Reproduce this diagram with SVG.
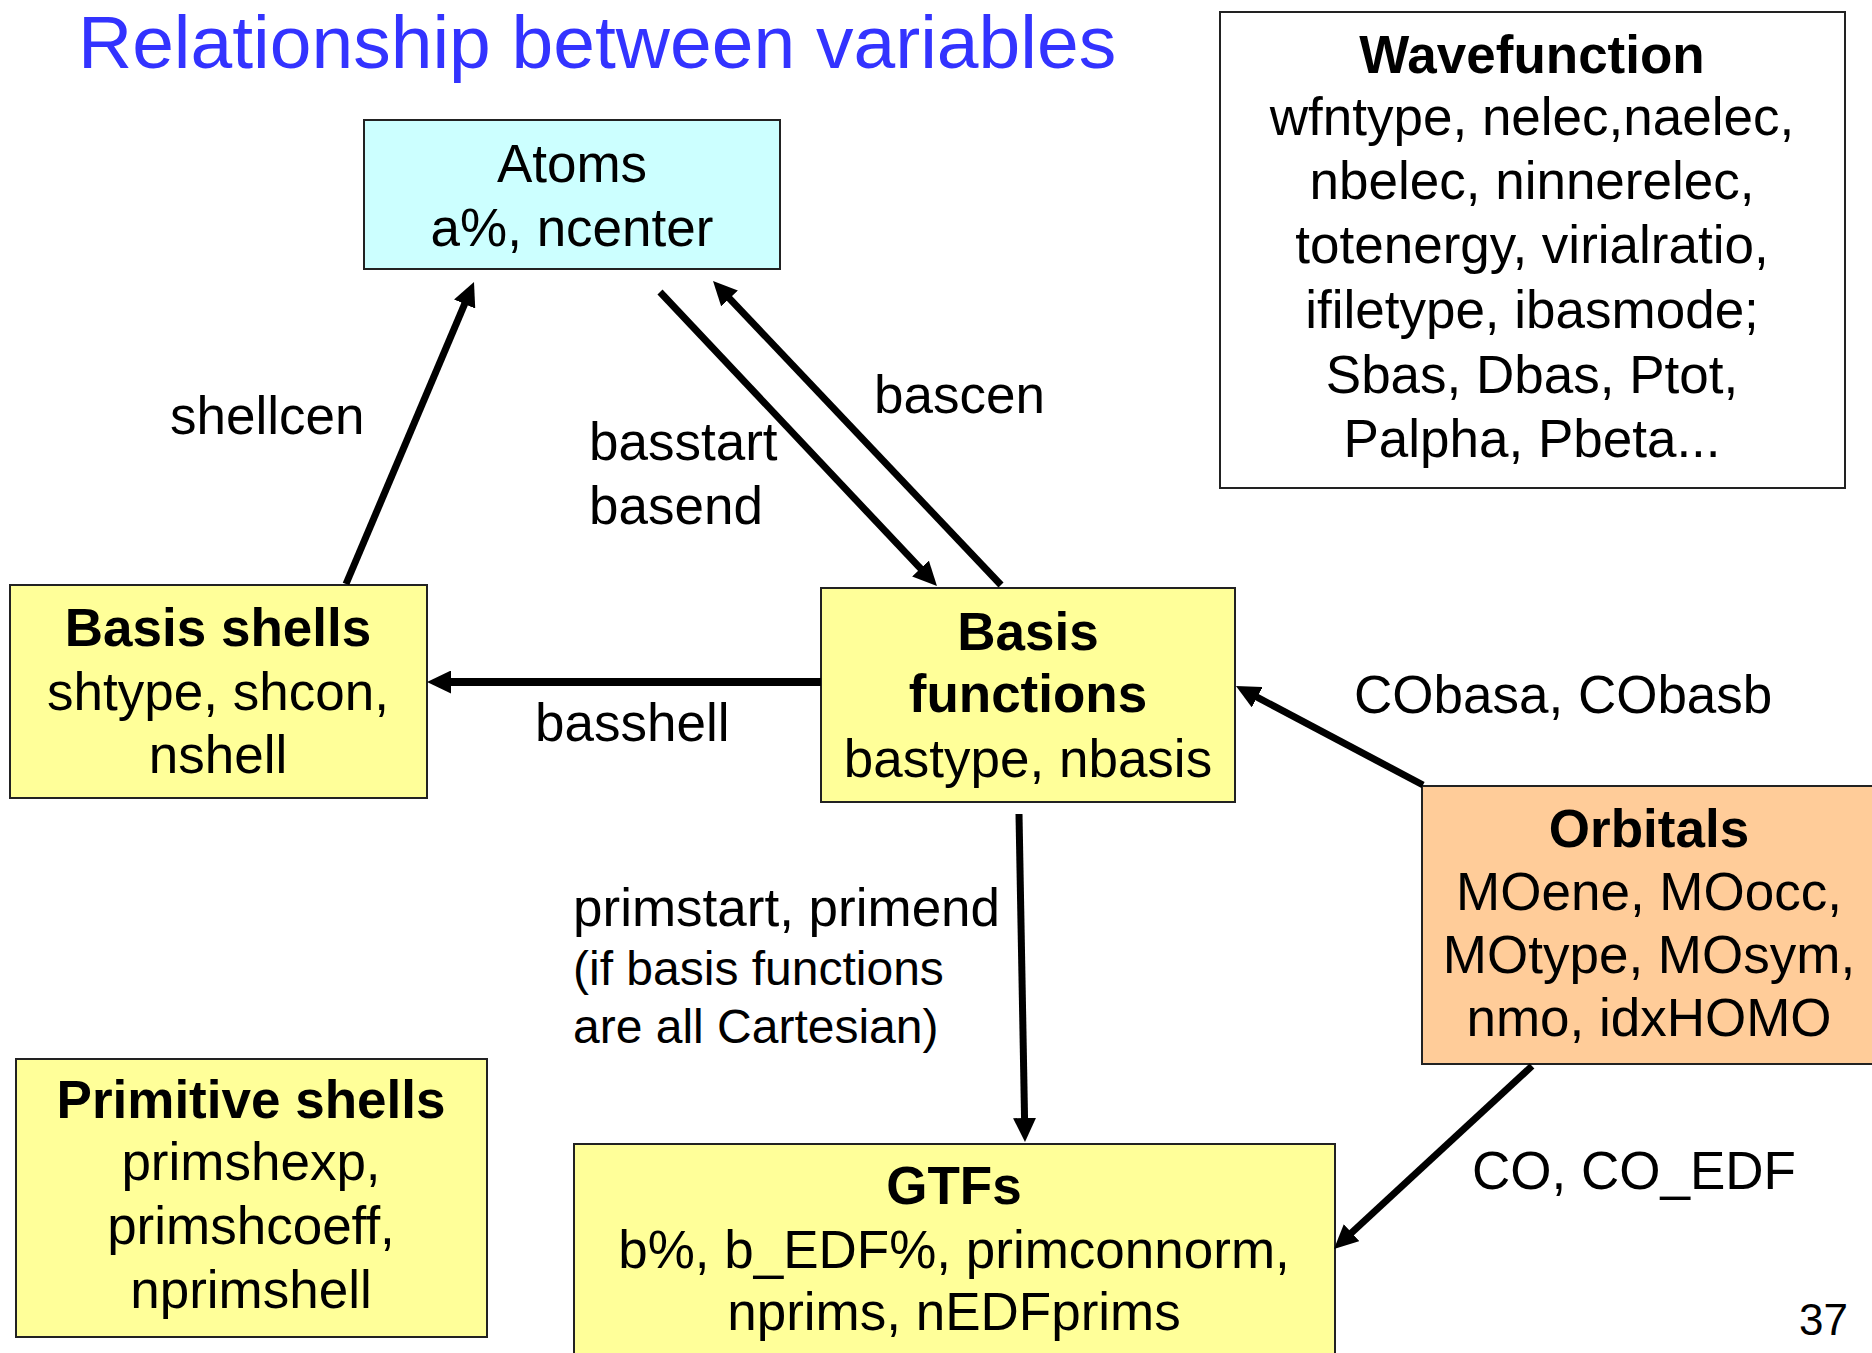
<svg xmlns="http://www.w3.org/2000/svg" width="1872" height="1353" viewBox="0 0 1872 1353">
<defs>
<style>
text{font-family:"Liberation Sans",Arial,sans-serif;font-size:53px;fill:#000;text-anchor:middle}
.b{font-weight:bold}
.l{text-anchor:start}
.s{font-size:48px}
.box{stroke:#222;stroke-width:2}
.y{fill:#FFFF99}
.c{fill:#CCFFFF}
.o{fill:#FFCC99}
.w{fill:#fff}
.e{stroke:#000;stroke-width:7;fill:none;marker-end:url(#ah)}
</style>
<marker id="ah" markerUnits="userSpaceOnUse" markerWidth="24" markerHeight="23" refX="14" refY="11.5" orient="auto">
<path d="M0,0 L24,11.5 L0,23 z" fill="#000"/>
</marker>
</defs>
<rect width="1872" height="1353" fill="#fff"/>
<text x="78" y="68" class="l" style="font-size:75px;fill:#3333FF">Relationship between variables</text>

<g id="atoms">
<rect class="box c" x="364" y="120" width="416" height="149"/>
<text x="572" y="182">Atoms</text>
<text x="572" y="246">a%, ncenter</text>
</g>

<g id="wavefunction">
<rect class="box w" x="1220" y="12" width="625" height="476"/>
<text x="1532" y="73" class="b">Wavefunction</text>
<text x="1532" y="135">wfntype, nelec,naelec,</text>
<text x="1532" y="199">nbelec, ninnerelec,</text>
<text x="1532" y="263">totenergy, virialratio,</text>
<text x="1532" y="328">ifiletype, ibasmode;</text>
<text x="1532" y="393">Sbas, Dbas, Ptot,</text>
<text x="1532" y="457">Palpha, Pbeta...</text>
</g>

<g id="basis-shells">
<rect class="box y" x="10" y="585" width="417" height="213"/>
<text x="218" y="646" class="b">Basis shells</text>
<text x="218" y="710">shtype, shcon,</text>
<text x="218" y="773">nshell</text>
</g>

<g id="basis-functions">
<rect class="box y" x="821" y="588" width="414" height="214"/>
<text x="1028" y="650" class="b">Basis</text>
<text x="1028" y="712" class="b">functions</text>
<text x="1028" y="777">bastype, nbasis</text>
</g>

<g id="orbitals">
<rect class="box o" x="1422" y="786" width="456" height="278"/>
<text x="1649" y="847" class="b">Orbitals</text>
<text x="1649" y="910">MOene, MOocc,</text>
<text x="1649" y="973">MOtype, MOsym,</text>
<text x="1649" y="1036">nmo, idxHOMO</text>
</g>

<g id="primitive-shells">
<rect class="box y" x="16" y="1059" width="471" height="278"/>
<text x="251" y="1118" class="b">Primitive shells</text>
<text x="251" y="1180">primshexp,</text>
<text x="251" y="1244">primshcoeff,</text>
<text x="251" y="1308">nprimshell</text>
</g>

<g id="gtfs">
<rect class="box y" x="574" y="1144" width="761" height="220"/>
<text x="954" y="1204" class="b">GTFs</text>
<text x="954" y="1268">b%, b_EDF%, primconnorm,</text>
<text x="954" y="1330">nprims, nEDFprims</text>
</g>

<g id="connectors">
<line class="e" x1="346" y1="584" x2="470.1" y2="291.2"/>
<line class="e" x1="660" y1="292" x2="930.1" y2="578.7"/>
<line class="e" x1="1001" y1="585" x2="719.9" y2="288.3"/>
<line class="e" x1="821" y1="682" x2="437" y2="682" style="stroke-width:8"/>
<line class="e" x1="1019" y1="814" x2="1024.8" y2="1132"/>
<line class="e" x1="1423" y1="785" x2="1244.8" y2="690.7"/>
<line class="e" x1="1532" y1="1066" x2="1341.3" y2="1242.2"/>
</g>

<g id="labels">
<text x="170" y="434" class="l">shellcen</text>
<text x="589" y="460" class="l">basstart</text>
<text x="589" y="524" class="l">basend</text>
<text x="874" y="413" class="l">bascen</text>
<text x="535" y="741" class="l">basshell</text>
<text x="1354" y="713" class="l">CObasa, CObasb</text>
<text x="573" y="926" class="l">primstart, primend</text>
<text x="573" y="985" class="l s">(if basis functions</text>
<text x="573" y="1043" class="l s">are all Cartesian)</text>
<text x="1472" y="1189" class="l">CO, CO_EDF</text>
<text x="1848" y="1335" style="font-size:44px;text-anchor:end">37</text>
</g>
</svg>
